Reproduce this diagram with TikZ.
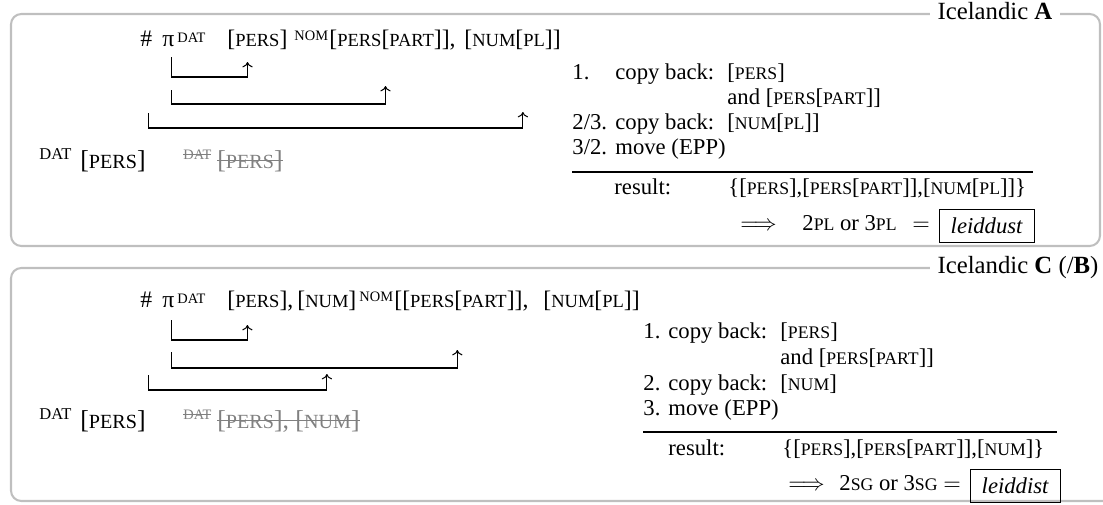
\documentclass[tikz,border=0pt]{standalone}
\usepackage{fontspec}
\setmainfont{Liberation Serif}
\usepackage{graphicx}
\usetikzlibrary{arrows.meta,positioning}

\newcommand\fsc[1]{\scalebox{0.78}{\MakeUppercase{#1}}}
\newcommand\casetag[3][1.5pt]{\raisebox{#1}{\fontsize{#2}{#2}\selectfont #3}}
\newsavebox\strikebox
\newcommand\struck[2][0.26em]{\sbox\strikebox{#2}\rlap{\rule[#1]{\wd\strikebox}{0.45pt}}\usebox\strikebox}

\tikzset{
  tok/.style={inner sep=0pt, anchor=base west, font=\fontsize{11}{13}\selectfont},
  headtok/.style={tok, font=\fontsize{11.5}{14}\selectfont},
  bigtok/.style={tok, font=\fontsize{12.5}{15}\selectfont},
  gone/.style={bigtok, text=gray},
  frame/.style={draw=black!25, line width=1pt, rounded corners=5pt},
  paneltitle/.style={anchor=base west, fill=white, inner xsep=3.5pt, inner ysep=1pt, font=\fontsize{12}{14}\selectfont},
  movearrow/.style={-{To[length=2.6pt,width=5pt]}, line width=0.5pt},
  formbox/.style={draw, line width=0.5pt, inner xsep=5.6pt, inner ysep=0pt, minimum height=16pt, font=\fontsize{11}{13}\selectfont\itshape},
  rule/.style={line width=0.5pt}
}

\begin{document}
\begin{tikzpicture}[x=0.485pt, y=-0.485pt]
  \useasboundingbox (0,0) rectangle (1103,504);

  % Icelandic A
  \draw[frame] (11,14) rectangle (1100,246);
  \node[paneltitle] (titleA) at (930,19) {Icelandic \textbf{A}};

  \node[headtok] (hashA) at (140,46) {\#};
  \node[headtok] (piA) at (162,46) {π};
  \node[headtok] (datA) at (177,46) {\casetag{7}{DAT}};
  \node[headtok] (persA) at (227,46) {[\fsc{pers}]};
  \node[headtok] (nomA) at (294,46) {\casetag[2.5pt]{7}{NOM}};
  \node[headtok] (partA) at (329,46) {[\fsc{pers}[\fsc{part}]],};
  \node[headtok] (numA) at (464,46) {[\fsc{num}[\fsc{pl}]]};

  \coordinate (topA1) at (0,57);   \coordinate (lowA1) at (0,77);   \coordinate (tipA1) at (0,62);
  \coordinate (topA2) at (0,90);   \coordinate (lowA2) at (0,104);  \coordinate (tipA2) at (0,86);
  \coordinate (topA3) at (0,113);  \coordinate (lowA3) at (0,128);  \coordinate (tipA3) at (0,112);
  \draw[movearrow] ([xshift=1.7pt]piA.south |- topA1) -- ([xshift=1.7pt]piA.south |- lowA1) -| ([xshift=-4.8pt]persA.south |- tipA1);
  \draw[movearrow] ([xshift=1.7pt]piA.south |- topA2) -- ([xshift=1.7pt]piA.south |- lowA2) -| ([xshift=-3.4pt]partA.south |- tipA2);
  \draw[movearrow] ([xshift=1pt]hashA.south |- topA3) -- ([xshift=1pt]hashA.south |- lowA3) -| ([xshift=5pt]numA.south |- tipA3);

  \node[bigtok] (datlowA) at (39,168) {\casetag[4pt]{8}{DAT}};
  \node[bigtok] (perslowA) at (80,168) {[\fsc{pers}]};
  \node[gone] (datgoneA) at (183,168) {\casetag[4pt]{7}{\struck[0.33em]{DAT}}};
  \node[gone] (persgoneA) at (217,168) {\struck{[\fsc{pers}]}};

  \node[tok] (oneA) at (572,79) {1.};
  \node[tok] (copyA1) at (615,79) {copy back:};
  \node[tok] (getA1) at (727,79) {[\fsc{pers}]};
  \node[tok] (andA) at (727,104) {and [\fsc{pers}[\fsc{part}]]};
  \node[tok] (twoA) at (572,129) {2/3.};
  \node[tok] (copyA2) at (615,129) {copy back:};
  \node[tok] (getA2) at (727,129) {[\fsc{num}[\fsc{pl}]]};
  \node[tok] (threeA) at (572,154) {3/2.};
  \node[tok] (moveA) at (615,154) {move (EPP)};
  \draw[rule] (572,172) -- (1033,172);
  \node[tok] (resA) at (614,194) {result:};
  \node[tok] (setA) at (728,194) {\{[\fsc{pers}],[\fsc{pers}[\fsc{part}]],[\fsc{num}[\fsc{pl}]]\}};
  \node[tok] (impA) at (740,230) {$\Longrightarrow$};
  \node[tok] (valA) at (802,230) {2\fsc{pl} or 3\fsc{pl}};
  \node[tok] (eqA) at (912,230) {$=$};
  \node[formbox, right=4pt of eqA] (formA) {leiddust};

  % Icelandic C (/B)
  \draw[frame] (11,268) rectangle (1116,501);
  \node[paneltitle] (titleC) at (930,273) {Icelandic \textbf{C} (/\textbf{B})};

  \node[headtok] (hashC) at (140,307) {\#};
  \node[headtok] (piC) at (162,307) {π};
  \node[headtok] (datC) at (177,307) {\casetag{7}{DAT}};
  \node[headtok] (persC) at (227,307) {[\fsc{pers}],};
  \node[headtok] (numC) at (297,307) {[\fsc{num}]};
  \node[headtok] (nomC) at (359,307) {\casetag[2.5pt]{7}{NOM}};
  \node[headtok] (partC) at (394,307) {[[\fsc{pers}[\fsc{part}]],};
  \node[headtok] (plC) at (543,307) {[\fsc{num}[\fsc{pl}]]};

  \coordinate (topC1) at (0,320);  \coordinate (lowC1) at (0,340);  \coordinate (tipC1) at (0,325);
  \coordinate (topC2) at (0,352);  \coordinate (lowC2) at (0,368);  \coordinate (tipC2) at (0,350);
  \coordinate (topC3) at (0,375);  \coordinate (lowC3) at (0,390);  \coordinate (tipC3) at (0,374);
  \draw[movearrow] ([xshift=1.7pt]piC.south |- topC1) -- ([xshift=1.7pt]piC.south |- lowC1) -| ([xshift=-6.3pt]persC.south |- tipC1);
  \draw[movearrow] ([xshift=1.7pt]piC.south |- topC2) -- ([xshift=1.7pt]piC.south |- lowC2) -| ([xshift=-2pt]partC.south |- tipC2);
  \draw[movearrow] ([xshift=1pt]hashC.south |- topC3) -- ([xshift=1pt]hashC.south |- lowC3) -| (numC.south |- tipC3);

  \node[bigtok] (datlowC) at (39,428) {\casetag[4pt]{8}{DAT}};
  \node[bigtok] (perslowC) at (80,428) {[\fsc{pers}]};
  \node[gone] (datgoneC) at (183,428) {\casetag[4pt]{7}{\struck[0.33em]{DAT}}};
  \node[gone] (persgoneC) at (217,428) {\struck{[\fsc{pers}], [\fsc{num}]}};

  \node[tok] (oneC) at (643,338) {1.};
  \node[tok] (copyC1) at (668,338) {copy back:};
  \node[tok] (getC1) at (780,338) {[\fsc{pers}]};
  \node[tok] (andC) at (780,364) {and [\fsc{pers}[\fsc{part}]]};
  \node[tok] (twoC) at (643,390) {2.};
  \node[tok] (copyC2) at (668,390) {copy back:};
  \node[tok] (getC2) at (780,390) {[\fsc{num}]};
  \node[tok] (threeC) at (643,415) {3.};
  \node[tok] (moveC) at (668,415) {move (EPP)};
  \draw[rule] (643,432) -- (1057,432);
  \node[tok] (resC) at (668,455) {result:};
  \node[tok] (setC) at (782,455) {\{[\fsc{pers}],[\fsc{pers}[\fsc{part}]],[\fsc{num}]\}};
  \node[tok] (impC) at (788,490) {$\Longrightarrow$};
  \node[tok] (valC) at (839,490) {2\fsc{sg} or 3\fsc{sg}};
  \node[tok] (eqC) at (943,490) {$=$};
  \node[formbox, right=4pt of eqC] (formC) {leiddist};
\end{tikzpicture}
\end{document}
